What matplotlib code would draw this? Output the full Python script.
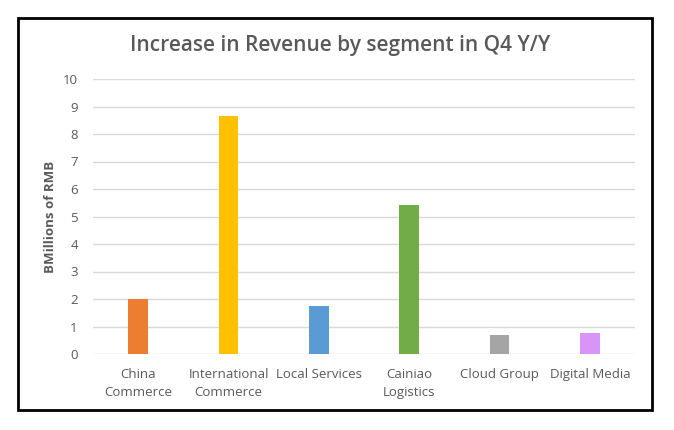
import matplotlib.pyplot as plt
from matplotlib.patches import Rectangle

segments = ['China\nCommerce', 'International\nCommerce', 'Local Services',
            'Cainiao\nLogistics', 'Cloud Group', 'Digital Media']
increase = [2.0, 8.66, 1.75, 5.42, 0.69, 0.78]
bar_colors = ['#ED7D31', '#FFC000', '#5B9BD5', '#70AD47', '#A5A5A5', '#D994F7']
yticks = list(range(0, 11))

plt.rcParams['font.family'] = ['Open Sans', 'DejaVu Sans']
W, H = 674, 430
fig = plt.figure(figsize=(W / 100, H / 100), dpi=100)
fig.patch.set_facecolor('white')

# axes placed in pixel coordinates
left, right, top, bottom = 93, 635, 79, 354
ax = fig.add_axes([left / W, 1 - bottom / H, (right - left) / W, (bottom - top) / H])

x = range(len(segments))
ax.bar(x, increase, width=0.22, color=bar_colors, zorder=3)
ax.set_xlim(-0.5, len(segments) - 0.5)
ax.set_ylim(0, 10)
ax.set_yticks(yticks)
ax.set_xticks(list(x))
ax.set_xticklabels(segments, fontsize=9.5, color='#595959', linespacing=1.5)
ax.tick_params(axis='y', labelsize=9.5, labelcolor='#595959', length=0, pad=11)
ax.tick_params(axis='x', length=0, pad=10)
ax.grid(axis='y', color='#D9D9D9', linewidth=1, zorder=0)
for s in ax.spines.values():
    s.set_visible(False)
ax.set_ylabel('BMillions of RMB', fontsize=9.5, fontweight='bold', color='#595959', labelpad=4)

fig.text(340 / W, 1 - 45 / H, 'Increase in Revenue by segment in Q4 Y/Y',
         ha='center', va='center', fontsize=15, fontweight='semibold', color='#595959')

# black frame around the chart
fig.patches.append(Rectangle((18 / W, 1 - 410 / H), (652 - 18) / W, (410 - 18) / H,
                             transform=fig.transFigure, fill=False,
                             edgecolor='black', linewidth=2))

fig.savefig('out.png', dpi=100)
